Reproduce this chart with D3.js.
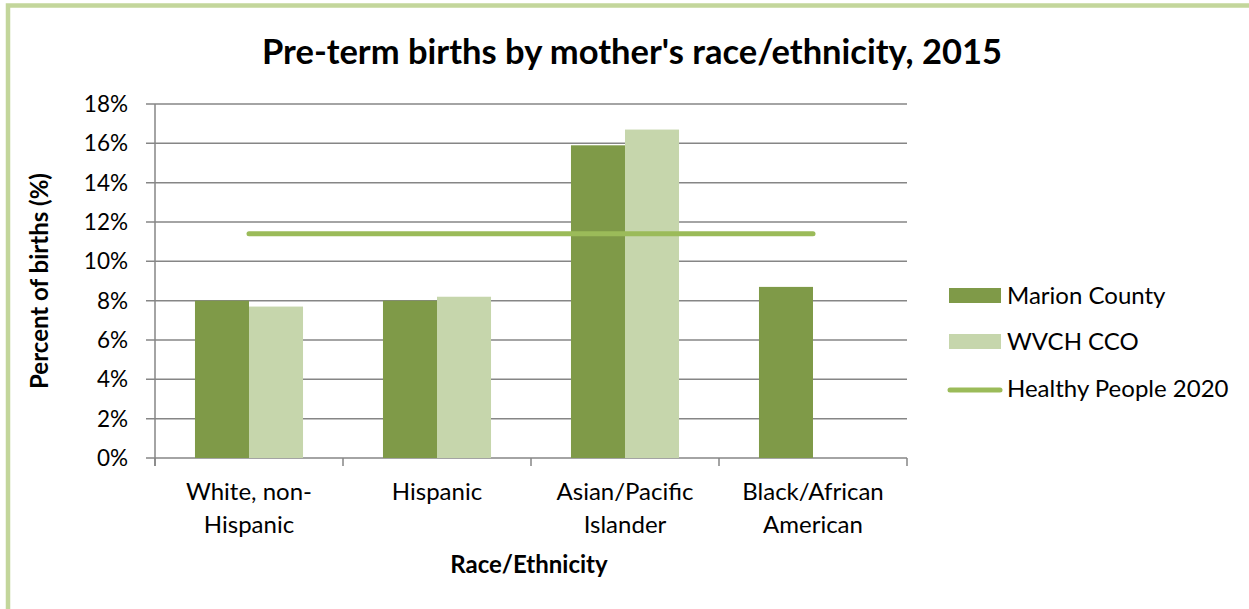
<!DOCTYPE html>
<html><head><meta charset="utf-8">
<script src="https://cdn.jsdelivr.net/npm/d3@7"></script>
<style>body{margin:0;background:#fff}svg{display:block}text{font-family:Lato,"Open Sans",sans-serif;fill:#000}</style>
</head><body><svg id="c" width="1249" height="609"></svg>
<script>
const categories = [["White, non-","Hispanic"],["Hispanic"],["Asian/Pacific","Islander"],["Black/African","American"]];
const marionCounty = [8.0, 8.0, 15.9, 8.7];
const wvchCCO = [7.7, 8.2, 16.7, null];
const healthyPeople2020 = 11.4;
const yTicks = [0,2,4,6,8,10,12,14,16,18];
const seriesNames = ["Marion County","WVCH CCO","Healthy People 2020"];

const svg = d3.select("#c");
const C1="#7f9a48", C2="#c6d6ac", C3="#9bbb59", GRID="#868686";
svg.append("rect").attr("x",8).attr("y",5.5).attr("width",1400).attr("height",800)
  .attr("fill","none").attr("stroke","#c3d69b").attr("stroke-width",4.5);

const L=155,R=907,T=104,B=458;
const x = d3.scaleBand().domain(d3.range(categories.length)).range([L,R]).paddingInner(0).paddingOuter(0);
const xi = d3.scaleBand().domain([0,1]).range([0,x.bandwidth()]).paddingOuter(0.74).paddingInner(0);
const y = d3.scaleLinear().domain([0,18]).range([B,T]);

// gridlines
svg.append("g").selectAll("line").data(yTicks).join("line")
  .attr("x1",146).attr("x2",R).attr("y1",d=>y(d)).attr("y2",d=>y(d))
  .attr("stroke",GRID).attr("stroke-width",1.5);
// y axis line
svg.append("line").attr("x1",L).attr("x2",L).attr("y1",T).attr("y2",B+8).attr("stroke",GRID).attr("stroke-width",1.5);
// x tick marks
svg.append("g").selectAll("line").data(d3.range(categories.length+1)).join("line")
  .attr("x1",d=>L+d*x.bandwidth()).attr("x2",d=>L+d*x.bandwidth()).attr("y1",B).attr("y2",B+8)
  .attr("stroke",GRID).attr("stroke-width",1.5);
// y tick labels
svg.append("g").selectAll("text").data(yTicks).join("text")
  .attr("x",128).attr("y",d=>y(d)).attr("dy","0.35em").attr("text-anchor","end")
  .attr("font-size",22.5).text(d=>d+"%");

// bars
const series=[marionCounty,wvchCCO];
const cols=[C1,C2];
series.forEach((s,si)=>{
  svg.append("g").selectAll("rect").data(s.map((v,i)=>({v,i})).filter(d=>d.v!=null)).join("rect")
    .attr("x",d=>x(d.i)+xi(si)).attr("width",xi.bandwidth())
    .attr("y",d=>y(d.v)).attr("height",d=>B-y(d.v)).attr("fill",cols[si]);
});
// healthy people line
svg.append("line").attr("x1",x(0)+x.bandwidth()/2).attr("x2",x(3)+x.bandwidth()/2)
  .attr("y1",y(healthyPeople2020)).attr("y2",y(healthyPeople2020))
  .attr("stroke",C3).attr("stroke-width",5).attr("stroke-linecap","round");

// x labels
categories.forEach((lines,i)=>{
  const t=svg.append("text").attr("text-anchor","middle").attr("font-size",24);
  lines.forEach((ln,j)=>t.append("tspan").attr("x",x(i)+x.bandwidth()/2).attr("y",500+j*33).text(ln));
});

// titles
svg.append("text").attr("x",632).attr("y",64).attr("text-anchor","middle")
  .attr("font-size",34.5).attr("font-weight","bold").text("Pre-term births by mother's race/ethnicity, 2015");
svg.append("text").attr("x",529).attr("y",573).attr("text-anchor","middle")
  .attr("font-size",24).attr("font-weight","bold").text("Race/Ethnicity");
svg.append("text").attr("transform","translate(48,281) rotate(-90)").attr("text-anchor","middle")
  .attr("font-size",24).attr("font-weight","bold").text("Percent of births (%)");

// legend
const ly=[296,342,389];
seriesNames.forEach((n,i)=>{
  if(i<2) svg.append("rect").attr("x",949).attr("y",ly[i]-8).attr("width",52).attr("height",15).attr("fill",cols[i]);
  else svg.append("line").attr("x1",950).attr("x2",1000).attr("y1",ly[i]+1).attr("y2",ly[i]+1).attr("stroke",C3).attr("stroke-width",5).attr("stroke-linecap","round");
  svg.append("text").attr("x",1007).attr("y",ly[i]).attr("dy","0.35em").attr("font-size",24).text(n);
});
</script></body></html>
